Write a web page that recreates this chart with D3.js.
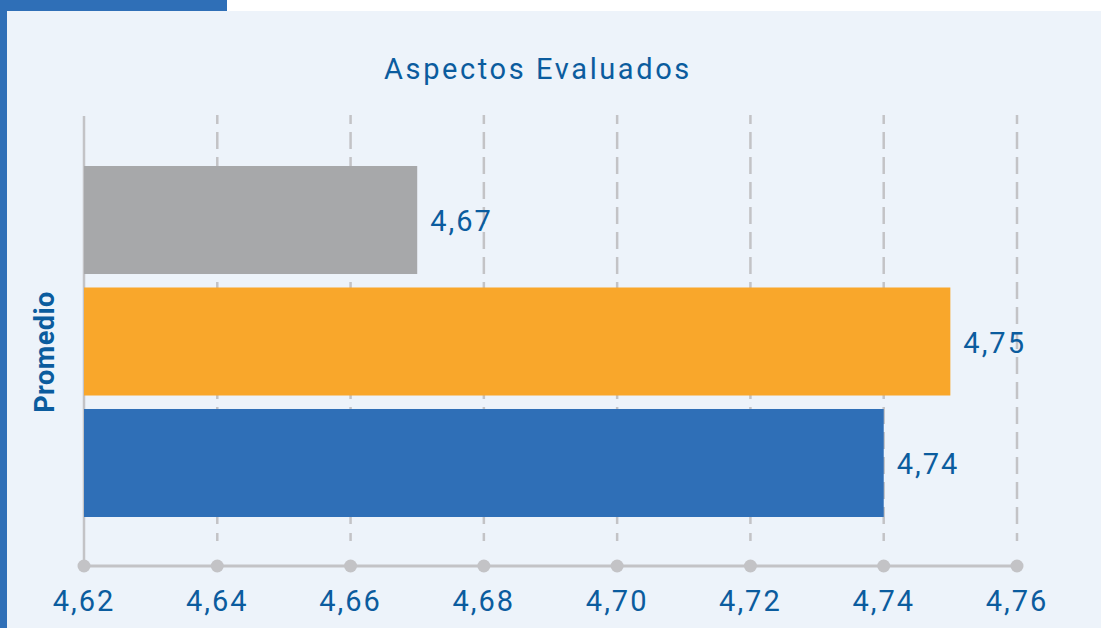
<!DOCTYPE html>
<html>
<head>
<meta charset="utf-8">
<script src="https://cdn.jsdelivr.net/npm/d3@7"></script>
<style>
  body { margin: 0; background: #ffffff; }
  text { font-family: Roboto, "Noto Sans", sans-serif; }
</style>
</head>
<body>
<div id="chart"></div>
<script>
// data
const categories = ["A", "B", "C"]
const values = [4.67, 4.75, 4.74]
const barColors = ["#a7a8aa", "#f9a72b", "#2f6fb7"]
const tickValues = [4.62, 4.64, 4.66, 4.68, 4.70, 4.72, 4.74, 4.76]

const W = 1101, H = 628
const textColor = "#0b5c9e"
const gridColor = "#c3c3c6"

const svg = d3.select("#chart").append("svg")
    .attr("width", W)
    .attr("height", H)

// panel background + blue frame bits
svg.append("rect").attr("x", 0).attr("y", 0).attr("width", W).attr("height", H).attr("fill", "#ffffff")
svg.append("rect").attr("x", 7).attr("y", 11).attr("width", W - 7).attr("height", H - 11).attr("fill", "#edf3fa")
svg.append("rect").attr("x", 0).attr("y", 0).attr("width", 227).attr("height", 11).attr("fill", "#2f6fb7")
svg.append("rect").attr("x", 0).attr("y", 0).attr("width", 7).attr("height", H).attr("fill", "#2f6fb7")

const x = d3.scaleLinear()
    .domain([4.62, 4.76])
    .range([84, 1017])

const y = d3.scaleBand()
    .domain(categories)
    .range([166, 517])
    .paddingInner(0.111)
    .paddingOuter(0)

const fmt = v => d3.format(".2f")(v).replace(".", ",")

// title
svg.append("text")
    .attr("x", 538)
    .attr("y", 79)
    .attr("text-anchor", "middle")
    .attr("fill", textColor)
    .attr("font-size", 29)
    .attr("letter-spacing", 2.6)
    .text("Aspectos Evaluados")

// grid lines (dashed), first one solid
svg.selectAll(".grid")
    .data(tickValues)
    .enter().append("line")
    .attr("x1", d => x(d))
    .attr("x2", d => x(d))
    .attr("y1", d => d === tickValues[0] ? 116 : 115)
    .attr("y2", d => d === tickValues[0] ? 566 : 543)
    .attr("stroke", gridColor)
    .attr("stroke-width", 2.5)
    .attr("stroke-dasharray", d => d === tickValues[0] ? null : "9,8,17,8,17,8,17,8,17,8,17,8,17,8,17,8,17,8,17,8,17,8,17,8,17,8,17,8,17,8,17,8,17")

// bars
svg.selectAll(".bar")
    .data(values)
    .enter().append("rect")
    .attr("x", x(4.62))
    .attr("y", (d, i) => y(categories[i]))
    .attr("width", d => x(d) - x(4.62))
    .attr("height", y.bandwidth())
    .attr("fill", (d, i) => barColors[i])

// value labels
svg.selectAll(".val")
    .data(values)
    .enter().append("text")
    .attr("x", d => x(d) + 13)
    .attr("y", (d, i) => y(categories[i]) + y.bandwidth() / 2 + 11)
    .attr("fill", textColor)
    .attr("font-size", 29)
    .attr("letter-spacing", 2)
    .text(d => fmt(d))

// x axis line + dots
svg.append("line")
    .attr("x1", x(4.62)).attr("x2", x(4.76))
    .attr("y1", 566).attr("y2", 566)
    .attr("stroke", gridColor)
    .attr("stroke-width", 3)

svg.selectAll(".dot")
    .data(tickValues)
    .enter().append("circle")
    .attr("cx", d => x(d))
    .attr("cy", 566)
    .attr("r", 6.5)
    .attr("fill", gridColor)

svg.selectAll(".tick")
    .data(tickValues)
    .enter().append("text")
    .attr("x", d => x(d))
    .attr("y", 611)
    .attr("text-anchor", "middle")
    .attr("fill", textColor)
    .attr("font-size", 29)
    .attr("letter-spacing", 2)
    .text(d => fmt(d))

// y axis title
svg.append("text")
    .attr("transform", "translate(54,352) rotate(-90)")
    .attr("text-anchor", "middle")
    .attr("fill", textColor)
    .attr("font-size", 27)
    .attr("font-weight", "bold")
    .attr("letter-spacing", 0.5)
    .text("Promedio")
</script>
</body>
</html>
